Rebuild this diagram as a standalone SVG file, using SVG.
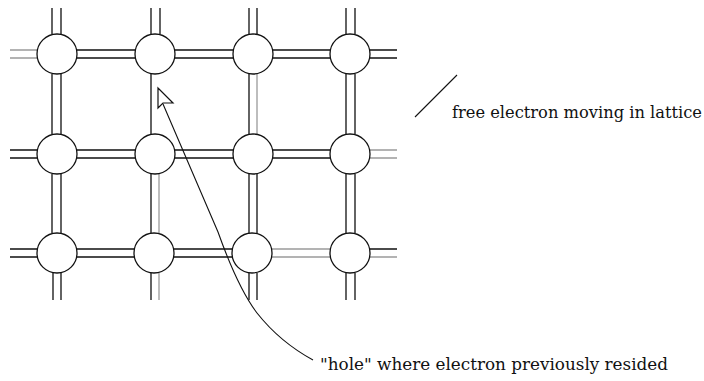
<svg xmlns="http://www.w3.org/2000/svg" width="704" height="381" viewBox="0 0 704 381">
<style>
.b{stroke:#111;stroke-width:1.3;fill:none}
.g{stroke:#9a9a9a;stroke-width:1.3;fill:none}
.atom{fill:#fff;stroke:#111;stroke-width:1.3}
.t{font-family:"DejaVu Serif","Liberation Serif",serif;font-size:16px;fill:#111}
</style>
<rect width="704" height="381" fill="#fff"/>
<g id="bonds">
<path class="g" d="M10 50H37M10 58H37"/>
<path class="b" d="M77 50H135M77 58H135M175 50H233M175 58H233M273 50H330M273 58H330M370 50H397M370 58H397"/>
<path class="b" d="M10 150H37M10 158H37M77 150H135M77 158H135M175 150H233M175 158H233M273 150H330M273 158H330"/>
<path class="g" d="M370 150H397M370 158H397"/>
<path class="b" d="M10 249H37M10 257H37M77 249H134M77 257H134M174 249H232M174 257H232M370 249H397"/>
<path class="g" d="M272 249H330M272 257H330M370 257H397"/>
<path class="b" d="M52 8V34M61 8V34M52 74V134M61 74V134M52 174V233M61 174V233M53 273V300M61 273V300"/>
<path class="b" d="M151 8V34M160 8V34M151 74V134M151 174V233M151 273V300"/>
<path class="g" d="M159 174V233M159 273V300"/>
<path class="b" d="M249 8V34M257 8V34M249 74V134M257 174V233M249 174V233M249 273V300M257 273V300"/>
<path class="g" d="M257 74V134"/>
<path class="b" d="M346 8V34M355 8V34M346 74V134M355 74V134M346 174V233M355 174V233M346 273V300M355 273V300"/>
</g>
<g id="atom-1-1"><circle class="atom" cx="57" cy="54" r="20"/></g>
<g id="atom-1-2"><circle class="atom" cx="155" cy="54" r="20"/></g>
<g id="atom-1-3"><circle class="atom" cx="253" cy="54" r="20"/></g>
<g id="atom-1-4"><circle class="atom" cx="350" cy="54" r="20"/></g>
<g id="atom-2-1"><circle class="atom" cx="57" cy="154" r="20"/></g>
<g id="atom-2-2"><circle class="atom" cx="155" cy="154" r="20"/></g>
<g id="atom-2-3"><circle class="atom" cx="253" cy="154" r="20"/></g>
<g id="atom-2-4"><circle class="atom" cx="350" cy="154" r="20"/></g>
<g id="atom-3-1"><circle class="atom" cx="57" cy="253" r="20"/></g>
<g id="atom-3-2"><circle class="atom" cx="154" cy="253" r="20"/></g>
<g id="atom-3-3"><circle class="atom" cx="252" cy="253" r="20"/></g>
<g id="atom-3-4"><circle class="atom" cx="350" cy="253" r="20"/></g>
<g id="connectors">
<path d="M163 104 L218 232 Q238 288 257 313 Q280 342 313 360" fill="none" stroke="#111" stroke-width="1.1"/>
<polygon points="158,88 158,108 163,103 173,103" fill="#fff" stroke="#111" stroke-width="1.2"/>
</g>
<g id="free-electron">
<line x1="457" y1="75" x2="415" y2="117" stroke="#111" stroke-width="1.1"/>
<text class="t" x="452" y="118" textLength="250" lengthAdjust="spacingAndGlyphs">free electron moving in lattice</text>
</g>
<g id="hole-label">
<text class="t" x="320" y="370" textLength="348" lengthAdjust="spacingAndGlyphs">"hole" where electron previously resided</text>
</g>
</svg>
